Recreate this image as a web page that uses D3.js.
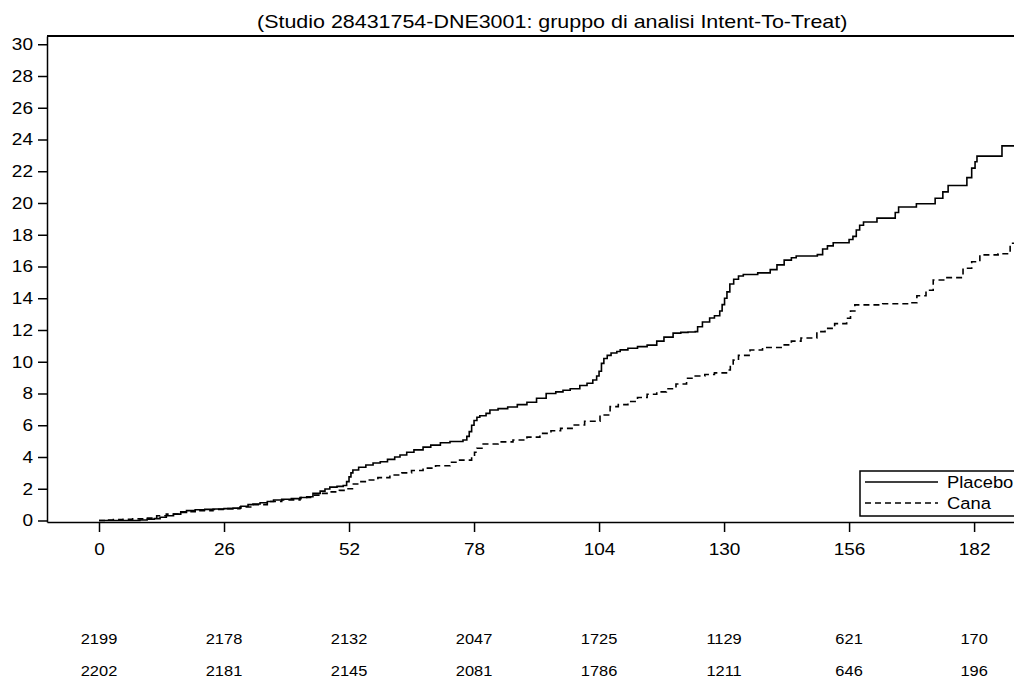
<!DOCTYPE html>
<html>
<head>
<meta charset="utf-8">
<script src="https://cdn.jsdelivr.net/npm/d3@7"></script>
<style>
  body { margin: 0; background: #fff; }
  svg text { font-family: "Liberation Sans", Arial, sans-serif; fill: #000; }
</style>
</head>
<body>
<div id="chart"></div>
<script>
// cumulative incidence (%), weeks on x
var placeboWeeks = [0, 8.5, 10, 11.5, 12.7, 14, 15.5, 17, 18.2, 20, 22, 24, 26, 27.9, 29.5, 31, 32, 33.5, 35, 36.3,
  38, 40, 42, 43.2, 44.5, 46, 47, 48, 49.5, 50.8, 51.5, 52, 52.4, 52.8, 54, 55.5, 57, 58.5, 60, 61.5, 62.6, 64,
  65.5, 67.4, 69, 71, 73, 75.7, 76.5, 77, 77.5, 78, 78.6, 79.2, 80.5, 81.3, 83, 85, 87, 89, 91, 93, 95, 96.5, 98,
  100, 101.5, 102.7, 103.5, 104, 104.5, 105, 105.7, 106.5, 107.7, 108.4, 110, 112, 114, 116, 117.5, 119.4, 121,
  122.5, 124, 124.5, 125.5, 127, 128, 129.1, 129.6, 130.1, 130.6, 131.2, 132, 133, 134, 137, 139.6, 141, 142.5,
  144, 145, 149.4, 150.5, 151.5, 152.7, 156, 156.8, 157.5, 158.2, 159, 161.8, 165.6, 166.3, 170, 173.9, 175.5,
  176.6, 180.5, 181.5, 182.2, 182.6, 187.8, 191];
var placeboValues = [0, 0.03, 0.08, 0.12, 0.2, 0.3, 0.4, 0.5, 0.62, 0.68, 0.7, 0.72, 0.75, 0.78, 0.9, 1.0, 1.04, 1.12, 1.2, 1.29,
  1.34, 1.38, 1.45, 1.5, 1.71, 1.85, 1.98, 2.1, 2.15, 2.2, 2.45, 2.75, 3.0, 3.18, 3.35, 3.5, 3.62, 3.7, 3.85, 4.0, 4.13, 4.3,
  4.45, 4.62, 4.75, 4.9, 4.98, 5.07, 5.3, 5.6, 6.0, 6.3, 6.5, 6.6, 6.75, 6.96, 7.05, 7.15, 7.3, 7.45, 7.7, 8.0, 8.1, 8.2, 8.3,
  8.5, 8.65, 8.85, 9.1, 9.4, 9.9, 10.2, 10.4, 10.55, 10.65, 10.75, 10.85, 10.95, 11.05, 11.3, 11.55, 11.8, 11.85,
  11.87, 11.9, 12.2, 12.5, 12.76, 12.9, 13.2, 13.6, 14.0, 14.4, 14.9, 15.2, 15.4, 15.5, 15.6, 15.8, 16.1, 16.4,
  16.55, 16.66, 16.75, 17.1, 17.3, 17.5, 17.7, 17.9, 18.3, 18.6, 18.8, 19.05, 19.4, 19.75, 19.95, 20.3, 20.7,
  21.1, 21.6, 22.2, 22.6, 22.95, 23.6, 23.6];

var canaWeeks = [0, 2, 3, 5, 7, 9.5, 12, 14, 17, 20, 23.7, 26, 29.3, 32, 35, 38, 41.8, 44, 46, 48, 50, 51.6, 52.9, 54,
  56, 58, 60.5, 63, 65, 67.4, 70, 73, 75, 77.5, 78.1, 78.6, 79.9, 83, 86.1, 89, 91.7, 94, 96, 98.6, 101, 104.2, 106.3,
  108, 110, 112, 114, 116, 118, 120, 122.2, 124, 126, 128, 130.5, 131.3, 131.9, 133, 135.4, 138, 142.3, 144, 146,
  149.3, 151, 153, 155.5, 156.3, 157.2, 163, 168.7, 170.1, 172, 173.5, 176, 179.7, 181.5, 183.2, 187, 189.5, 191];
var canaValues = [0, 0.03, 0.06, 0.08, 0.1, 0.15, 0.3, 0.4, 0.55, 0.62, 0.7, 0.75, 0.85, 1.0, 1.2, 1.3, 1.45, 1.6, 1.71, 1.8, 1.9, 2.0, 2.3, 2.45,
  2.55, 2.7, 2.87, 3.0, 3.15, 3.3, 3.45, 3.67, 3.8, 4.02, 4.3, 4.55, 4.82, 4.95, 5.07, 5.25, 5.49, 5.65, 5.8, 6.02, 6.25, 6.65, 7.17,
  7.3, 7.5, 7.75, 7.95, 8.1, 8.3, 8.6, 8.96, 9.1, 9.2, 9.3, 9.48, 9.8, 10.1, 10.4, 10.74, 10.9, 11.06, 11.3, 11.5,
  11.9, 12.1, 12.4, 12.74, 13.2, 13.58, 13.65, 13.72, 14.16, 14.5, 15.15, 15.3, 15.89, 16.3, 16.73, 16.8, 17.46, 17.46];

var xTicks = [0, 26, 52, 78, 104, 130, 156, 182];
var yTicks = [0, 2, 4, 6, 8, 10, 12, 14, 16, 18, 20, 22, 24, 26, 28, 30];
var riskPlacebo = [2199, 2178, 2132, 2047, 1725, 1129, 621, 170];
var riskCana = [2202, 2181, 2145, 2081, 1786, 1211, 646, 196];
var seriesNames = ["Placebo", "Cana"];
var title = "(Studio 28431754-DNE3001: gruppo di analisi Intent-To-Treat)";

var width = 1014;
var height = 679;
var stretch = 1.12; // the reference text is a bit wider than plain Arial

var svg = d3.select("#chart")
  .append("svg")
  .attr("width", width)
  .attr("height", height);

// scales
var x = d3.scaleLinear().domain([-10.815, 190.3]).range([47, 1014]);
var y = d3.scaleLinear().domain([-0.095, 30.52]).range([522, 36]);

// title
svg.append("text")
  .attr("transform", "translate(257,28) scale(1.16,1)")
  .attr("font-size", "18.5px")
  .text(title);

// top frame line
svg.append("line")
  .attr("x1", 47).attr("x2", width)
  .attr("y1", 36).attr("y2", 36)
  .attr("stroke", "#000")
  .attr("stroke-width", 2);

// axes
var yAxis = svg.append("g")
  .attr("transform", "translate(47,0)")
  .call(d3.axisLeft(y).tickValues(yTicks).tickSize(9).tickSizeOuter(0).tickPadding(5));

var xAxis = svg.append("g")
  .attr("transform", "translate(0,522)")
  .call(d3.axisBottom(x).tickValues(xTicks).tickSize(10).tickSizeOuter(0).tickPadding(11));

yAxis.selectAll("text")
  .attr("font-size", "17px")
  .attr("font-family", null)
  .attr("x", -14 / stretch)
  .attr("transform", "scale(" + stretch + ",1)");
xAxis.selectAll("text")
  .attr("font-size", "17px")
  .attr("font-family", null)
  .attr("transform", "scale(" + stretch + ",1)");
svg.selectAll(".domain, .tick line").attr("stroke", "#000").attr("stroke-width", 1.5);

// curves
var line = d3.line()
  .x(function(d) { return x(d[0]); })
  .y(function(d) { return y(d[1]); })
  .curve(d3.curveStepAfter);

var placebo = placeboWeeks.map(function(w, i) { return [w, placeboValues[i]]; });
var cana = canaWeeks.map(function(w, i) { return [w, canaValues[i]]; });

svg.append("path")
  .datum(cana)
  .attr("d", line)
  .attr("fill", "none")
  .attr("stroke", "#000")
  .attr("stroke-width", 1.6)
  .attr("stroke-dasharray", "6,4");

svg.append("path")
  .datum(placebo)
  .attr("d", line)
  .attr("fill", "none")
  .attr("stroke", "#000")
  .attr("stroke-width", 1.6);

// legend
var legend = svg.append("g");
legend.append("rect")
  .attr("x", 860).attr("y", 471)
  .attr("width", 200).attr("height", 45)
  .attr("fill", "#fff")
  .attr("stroke", "#000")
  .attr("stroke-width", 1.5);

seriesNames.forEach(function(name, i) {
  var ly = 482 + i * 21;
  legend.append("line")
    .attr("x1", 865).attr("x2", 938)
    .attr("y1", ly).attr("y2", ly)
    .attr("stroke", "#000")
    .attr("stroke-width", 1.6)
    .attr("stroke-dasharray", i === 1 ? "6,4" : null);
  legend.append("text")
    .attr("transform", "translate(947," + (ly + 6) + ") scale(1.08,1)")
    .attr("font-size", "17px")
    .text(name);
});

// numbers at risk, one row per arm
var riskRows = [riskPlacebo, riskCana];
riskRows.forEach(function(row, r) {
  svg.selectAll("text.risk" + r)
    .data(row)
    .enter()
    .append("text")
    .attr("class", "risk" + r)
    .attr("transform", function(d, i) {
      return "translate(" + x(xTicks[i]) + "," + (644 + r * 32) + ") scale(1.06,1)";
    })
    .attr("text-anchor", "middle")
    .attr("font-size", "15.5px")
    .text(function(d) { return d; });
});
</script>
</body>
</html>
